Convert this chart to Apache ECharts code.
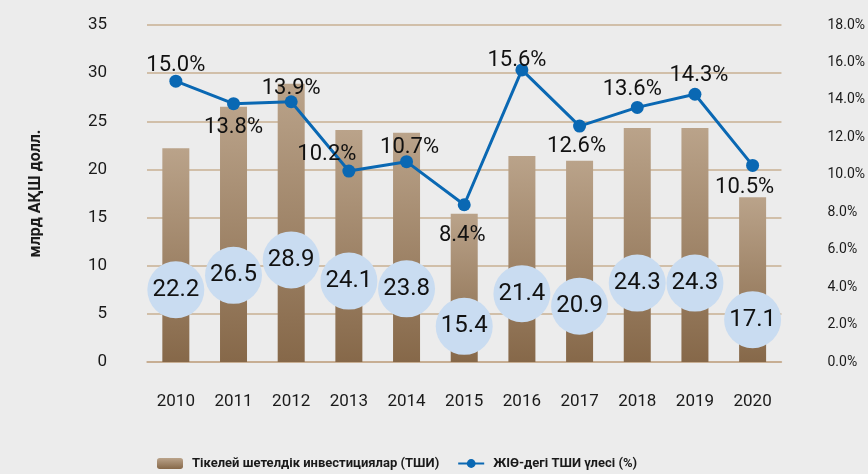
<!DOCTYPE html>
<html>
<head>
<meta charset="utf-8">
<script src="https://cdn.jsdelivr.net/npm/echarts@6/dist/echarts.min.js"></script>
<style>
  html, body { margin: 0; padding: 0; background: #ececec; }
  #chart { width: 868px; height: 474px; }
</style>
</head>
<body>
<div id="chart"></div>
<script>
var years = ['2010', '2011', '2012', '2013', '2014', '2015', '2016', '2017', '2018', '2019', '2020'];
// ТШИ, млрд АҚШ долл.
var fdiValues = [22.2, 26.5, 28.9, 24.1, 23.8, 15.4, 21.4, 20.9, 24.3, 24.3, 17.1];
// ЖІӨ-дегі ТШИ үлесі, %
var shareValues = [15.0, 13.8, 13.9, 10.2, 10.7, 8.4, 15.6, 12.6, 13.6, 14.3, 10.5];
// where the value bubbles sit on the left axis
var bubbleLevels = [7.5, 9.0, 10.6, 8.4, 7.6, 3.7, 7.1, 5.8, 8.2, 8.2, 4.4];
var leftTicks = { min: 0, max: 35, interval: 5 };
var rightTicks = { min: 0, max: 18, interval: 2 };

var labelPlace = ['top', 'bottom', 'top', 'top', 'top', 'bottom', 'top', 'bottom', 'top', 'top', 'bottom'];
var labelShift = [[0, 2], [0, 6], [0, 4], [-22, 1], [3, 3], [-2, 13], [-5, 8], [-3, 3], [-5, 0], [4, -1], [-8, 5]];

var font = 'Roboto, "Noto Sans", sans-serif';

var chart = echarts.init(document.getElementById('chart'));

var lineData = shareValues.map(function (v, i) {
  return {
    value: v,
    label: { position: labelPlace[i], offset: labelShift[i] }
  };
});

var bubbleData = bubbleLevels.map(function (v, i) {
  return [years[i], v];
});

chart.setOption({
  backgroundColor: '#ececec',
  textStyle: { fontFamily: font },
  grid: { left: 147, right: 86, top: 25, bottom: 112 },
  legend: {
    left: 152,
    top: 452,
    itemWidth: 26,
    itemHeight: 11,
    itemGap: 18,
    textStyle: { fontSize: 13, fontWeight: 'bold', color: '#1a1a1a', fontFamily: font, padding: [0, 0, 0, 4] },
    data: ['Тікелей шетелдік инвестициялар (ТШИ)', 'ЖІӨ-дегі ТШИ үлесі (%)']
  },
  xAxis: {
    type: 'category',
    data: years,
    axisLine: { lineStyle: { color: '#c4a98c', width: 1.5 } },
    axisTick: { show: false },
    axisLabel: { color: '#1a1a1a', fontSize: 17, margin: 31 }
  },
  yAxis: [
    {
      type: 'value',
      min: leftTicks.min,
      max: leftTicks.max,
      interval: leftTicks.interval,
      name: 'млрд АҚШ долл.',
      nameLocation: 'middle',
      nameGap: 103,
      nameRotate: 90,
      nameTextStyle: { fontSize: 16, fontWeight: 'bold', color: '#1a1a1a' },
      axisLine: { show: false },
      axisTick: { show: false },
      axisLabel: { color: '#1a1a1a', fontSize: 17, margin: 40 },
      splitLine: { lineStyle: { color: '#c9b093', width: 1.5 } }
    },
    {
      type: 'value',
      min: rightTicks.min,
      max: rightTicks.max,
      interval: rightTicks.interval,
      axisLine: { show: false },
      axisTick: { show: false },
      splitLine: { show: false },
      axisLabel: {
        color: '#1a1a1a',
        fontSize: 14,
        margin: 46,
        formatter: function (v) { return v.toFixed(1) + '%'; }
      }
    }
  ],
  series: [
    {
      name: 'Тікелей шетелдік инвестициялар (ТШИ)',
      type: 'bar',
      data: fdiValues,
      barWidth: 27,
      itemStyle: {
        color: new echarts.graphic.LinearGradient(0, 0, 0, 1, [
          { offset: 0, color: '#baa38a' },
          { offset: 1, color: '#866849' }
        ])
      },
      z: 1
    },
    {
      name: 'bubbles',
      type: 'scatter',
      data: bubbleData,
      symbolSize: 57,
      itemStyle: { color: '#c9dcf1', opacity: 1 },
      label: {
        show: true,
        position: 'inside',
        color: '#111',
        fontSize: 24,
        formatter: function (p) { return fdiValues[p.dataIndex].toFixed(1); }
      },
      silent: true,
      z: 3
    },
    {
      name: 'ЖІӨ-дегі ТШИ үлесі (%)',
      type: 'line',
      yAxisIndex: 1,
      data: lineData,
      symbol: 'circle',
      symbolSize: 13,
      lineStyle: { color: '#0a68b3', width: 3 },
      itemStyle: { color: '#0a68b3' },
      label: {
        show: true,
        color: '#111',
        fontSize: 22,
        distance: 0,
        formatter: function (p) { return p.value.toFixed(1) + '%'; }
      },
      z: 4
    }
  ]
});
</script>
</body>
</html>
